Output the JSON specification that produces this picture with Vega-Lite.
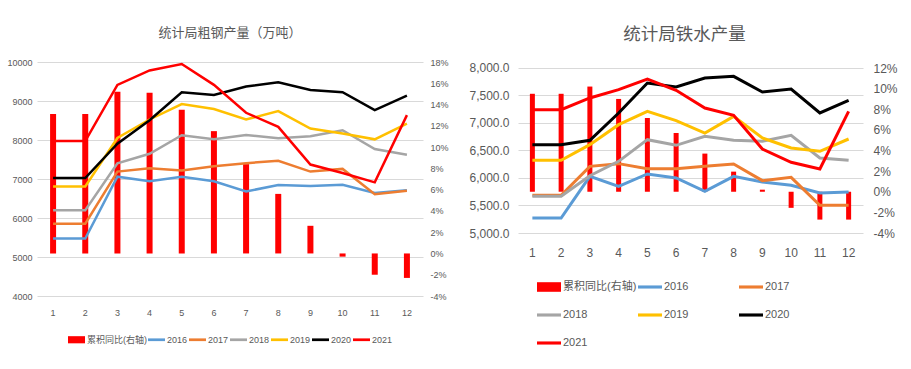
{
  "$schema": "https://vega.github.io/schema/vega-lite/v6.json",
  "background": "white",
  "padding": {"left": 6, "top": 25, "right": 0, "bottom": 0},
  "spacing": 19,
  "datasets": {
    "steel": [
      {"m": 1, "s": "累积同比(右轴)", "v": 0.131}, {"m": 2, "s": "累积同比(右轴)", "v": 0.131}, {"m": 3, "s": "累积同比(右轴)", "v": 0.152}, {"m": 4, "s": "累积同比(右轴)", "v": 0.151}, {"m": 5, "s": "累积同比(右轴)", "v": 0.135}, {"m": 6, "s": "累积同比(右轴)", "v": 0.115}, {"m": 7, "s": "累积同比(右轴)", "v": 0.084}, {"m": 8, "s": "累积同比(右轴)", "v": 0.056}, {"m": 9, "s": "累积同比(右轴)", "v": 0.026}, {"m": 10, "s": "累积同比(右轴)", "v": -0.003}, {"m": 11, "s": "累积同比(右轴)", "v": -0.020}, {"m": 12, "s": "累积同比(右轴)", "v": -0.023},
      {"m": 1, "s": "2016", "v": 5474}, {"m": 2, "s": "2016", "v": 5474}, {"m": 3, "s": "2016", "v": 7060}, {"m": 4, "s": "2016", "v": 6940}, {"m": 5, "s": "2016", "v": 7060}, {"m": 6, "s": "2016", "v": 6940}, {"m": 7, "s": "2016", "v": 6681}, {"m": 8, "s": "2016", "v": 6845}, {"m": 9, "s": "2016", "v": 6819}, {"m": 10, "s": "2016", "v": 6853}, {"m": 11, "s": "2016", "v": 6640}, {"m": 12, "s": "2016", "v": 6710},
      {"m": 1, "s": "2017", "v": 5853}, {"m": 2, "s": "2017", "v": 5853}, {"m": 3, "s": "2017", "v": 7190}, {"m": 4, "s": "2017", "v": 7276}, {"m": 5, "s": "2017", "v": 7216}, {"m": 6, "s": "2017", "v": 7328}, {"m": 7, "s": "2017", "v": 7405}, {"m": 8, "s": "2017", "v": 7466}, {"m": 9, "s": "2017", "v": 7190}, {"m": 10, "s": "2017", "v": 7259}, {"m": 11, "s": "2017", "v": 6612}, {"m": 12, "s": "2017", "v": 6698},
      {"m": 1, "s": "2018", "v": 6198}, {"m": 2, "s": "2018", "v": 6198}, {"m": 3, "s": "2018", "v": 7405}, {"m": 4, "s": "2018", "v": 7647}, {"m": 5, "s": "2018", "v": 8121}, {"m": 6, "s": "2018", "v": 8017}, {"m": 7, "s": "2018", "v": 8129}, {"m": 8, "s": "2018", "v": 8043}, {"m": 9, "s": "2018", "v": 8095}, {"m": 10, "s": "2018", "v": 8250}, {"m": 11, "s": "2018", "v": 7767}, {"m": 12, "s": "2018", "v": 7621},
      {"m": 1, "s": "2019", "v": 6810}, {"m": 2, "s": "2019", "v": 6810}, {"m": 3, "s": "2019", "v": 8052}, {"m": 4, "s": "2019", "v": 8526}, {"m": 5, "s": "2019", "v": 8922}, {"m": 6, "s": "2019", "v": 8793}, {"m": 7, "s": "2019", "v": 8526}, {"m": 8, "s": "2019", "v": 8741}, {"m": 9, "s": "2019", "v": 8293}, {"m": 10, "s": "2019", "v": 8164}, {"m": 11, "s": "2019", "v": 8017}, {"m": 12, "s": "2019", "v": 8422},
      {"m": 1, "s": "2020", "v": 7026}, {"m": 2, "s": "2020", "v": 7026}, {"m": 3, "s": "2020", "v": 7905}, {"m": 4, "s": "2020", "v": 8509}, {"m": 5, "s": "2020", "v": 9224}, {"m": 6, "s": "2020", "v": 9155}, {"m": 7, "s": "2020", "v": 9371}, {"m": 8, "s": "2020", "v": 9483}, {"m": 9, "s": "2020", "v": 9284}, {"m": 10, "s": "2020", "v": 9224}, {"m": 11, "s": "2020", "v": 8767}, {"m": 12, "s": "2020", "v": 9138},
      {"m": 1, "s": "2021", "v": 7974}, {"m": 2, "s": "2021", "v": 7974}, {"m": 3, "s": "2021", "v": 9414}, {"m": 4, "s": "2021", "v": 9784}, {"m": 5, "s": "2021", "v": 9948}, {"m": 6, "s": "2021", "v": 9414}, {"m": 7, "s": "2021", "v": 8698}, {"m": 8, "s": "2021", "v": 8336}, {"m": 9, "s": "2021", "v": 7371}, {"m": 10, "s": "2021", "v": 7155}, {"m": 11, "s": "2021", "v": 6914}, {"m": 12, "s": "2021", "v": 8638}
    ],
    "iron": [
      {"m": 1, "s": "累积同比(右轴)", "v": 0.095}, {"m": 2, "s": "累积同比(右轴)", "v": 0.095}, {"m": 3, "s": "累积同比(右轴)", "v": 0.102}, {"m": 4, "s": "累积同比(右轴)", "v": 0.090}, {"m": 5, "s": "累积同比(右轴)", "v": 0.0715}, {"m": 6, "s": "累积同比(右轴)", "v": 0.057}, {"m": 7, "s": "累积同比(右轴)", "v": 0.037}, {"m": 8, "s": "累积同比(右轴)", "v": 0.0195}, {"m": 9, "s": "累积同比(右轴)", "v": 0.002}, {"m": 10, "s": "累积同比(右轴)", "v": -0.0156}, {"m": 11, "s": "累积同比(右轴)", "v": -0.027}, {"m": 12, "s": "累积同比(右轴)", "v": -0.027},
      {"m": 1, "s": "2016", "v": 5273}, {"m": 2, "s": "2016", "v": 5273}, {"m": 3, "s": "2016", "v": 6030}, {"m": 4, "s": "2016", "v": 5848}, {"m": 5, "s": "2016", "v": 6073}, {"m": 6, "s": "2016", "v": 6000}, {"m": 7, "s": "2016", "v": 5758}, {"m": 8, "s": "2016", "v": 6030}, {"m": 9, "s": "2016", "v": 5927}, {"m": 10, "s": "2016", "v": 5867}, {"m": 11, "s": "2016", "v": 5727}, {"m": 12, "s": "2016", "v": 5745},
      {"m": 1, "s": "2017", "v": 5685}, {"m": 2, "s": "2017", "v": 5685}, {"m": 3, "s": "2017", "v": 6212}, {"m": 4, "s": "2017", "v": 6261}, {"m": 5, "s": "2017", "v": 6170}, {"m": 6, "s": "2017", "v": 6170}, {"m": 7, "s": "2017", "v": 6212}, {"m": 8, "s": "2017", "v": 6255}, {"m": 9, "s": "2017", "v": 5952}, {"m": 10, "s": "2017", "v": 6012}, {"m": 11, "s": "2017", "v": 5503}, {"m": 12, "s": "2017", "v": 5503},
      {"m": 1, "s": "2018", "v": 5667}, {"m": 2, "s": "2018", "v": 5667}, {"m": 3, "s": "2018", "v": 6042}, {"m": 4, "s": "2018", "v": 6303}, {"m": 5, "s": "2018", "v": 6697}, {"m": 6, "s": "2018", "v": 6594}, {"m": 7, "s": "2018", "v": 6758}, {"m": 8, "s": "2018", "v": 6685}, {"m": 9, "s": "2018", "v": 6667}, {"m": 10, "s": "2018", "v": 6776}, {"m": 11, "s": "2018", "v": 6364}, {"m": 12, "s": "2018", "v": 6321},
      {"m": 1, "s": "2019", "v": 6321}, {"m": 2, "s": "2019", "v": 6321}, {"m": 3, "s": "2019", "v": 6606}, {"m": 4, "s": "2019", "v": 6970}, {"m": 5, "s": "2019", "v": 7212}, {"m": 6, "s": "2019", "v": 7042}, {"m": 7, "s": "2019", "v": 6818}, {"m": 8, "s": "2019", "v": 7121}, {"m": 9, "s": "2019", "v": 6727}, {"m": 10, "s": "2019", "v": 6545}, {"m": 11, "s": "2019", "v": 6485}, {"m": 12, "s": "2019", "v": 6709},
      {"m": 1, "s": "2020", "v": 6606}, {"m": 2, "s": "2020", "v": 6606}, {"m": 3, "s": "2020", "v": 6685}, {"m": 4, "s": "2020", "v": 7182}, {"m": 5, "s": "2020", "v": 7727}, {"m": 6, "s": "2020", "v": 7655}, {"m": 7, "s": "2020", "v": 7818}, {"m": 8, "s": "2020", "v": 7848}, {"m": 9, "s": "2020", "v": 7564}, {"m": 10, "s": "2020", "v": 7618}, {"m": 11, "s": "2020", "v": 7182}, {"m": 12, "s": "2020", "v": 7412},
      {"m": 1, "s": "2021", "v": 7242}, {"m": 2, "s": "2021", "v": 7242}, {"m": 3, "s": "2021", "v": 7455}, {"m": 4, "s": "2021", "v": 7606}, {"m": 5, "s": "2021", "v": 7800}, {"m": 6, "s": "2021", "v": 7594}, {"m": 7, "s": "2021", "v": 7273}, {"m": 8, "s": "2021", "v": 7139}, {"m": 9, "s": "2021", "v": 6527}, {"m": 10, "s": "2021", "v": 6285}, {"m": 11, "s": "2021", "v": 6164}, {"m": 12, "s": "2021", "v": 7212}
    ]
  },
  "hconcat": [
    {
      "width": 386,
      "height": 234,
      "title": {"text": "统计局粗钢产量（万吨）", "fontSize": 13, "offset": 18},
      "data": {"name": "steel"},
      "encoding": {
        "x": {"field": "m", "type": "ordinal", "scale": {"paddingInner": 0, "paddingOuter": 0},
              "axis": {"title": null, "labelAngle": 0, "labelFontSize": 9, "labelPadding": 12, "grid": false}}
      },
      "layer": [
        {
          "transform": [{"filter": "datum.s === '累积同比(右轴)'"}],
          "mark": {"type": "bar", "size": 6},
          "encoding": {
            "y": {"field": "v", "type": "quantitative", "scale": {"domain": [-0.04, 0.18], "nice": false, "zero": false},
                  "axis": {"orient": "right", "title": null, "values": [-0.04, -0.02, 0, 0.02, 0.04, 0.06, 0.08, 0.1, 0.12, 0.14, 0.16, 0.18], "labelExpr": "round(datum.value*100) + '%'", "labelFontSize": 9, "labelPadding": 7, "grid": false}},
            "color": {"field": "s", "type": "nominal",
                      "scale": {"domain": ["累积同比(右轴)", "2016", "2017", "2018", "2019", "2020", "2021"], "range": ["#FF0000", "#5B9BD5", "#ED7D31", "#A5A5A5", "#FFC000", "#000000", "#FF0000"]},
                      "legend": {"orient": "none", "legendX": 31, "legendY": 269, "direction": "horizontal", "title": null, "labelFontSize": 9, "symbolSize": 289, "labelOffset": 2, "columnPadding": 1, "padding": 0,
                                 "encode": {"symbols": {"update": {
                                   "shape": {"signal": "datum.value === '累积同比(右轴)' ? 'M-1,-0.42H1V0.42H-1Z' : 'M-1,-0.16H1V0.16H-1Z'"},
                                   "fill": {"signal": "['#FF0000','#5B9BD5','#ED7D31','#A5A5A5','#FFC000','#000000','#FF0000'][indexof(['累积同比(右轴)','2016','2017','2018','2019','2020','2021'], datum.value)]"},
                                   "stroke": {"value": "transparent"}, "strokeWidth": {"value": 0}, "opacity": {"value": 1}}}}}}
          }
        },
        {
          "transform": [{"filter": "datum.s !== '累积同比(右轴)'"}],
          "mark": {"type": "line", "strokeWidth": 2.5},
          "encoding": {
            "y": {"field": "v", "type": "quantitative", "scale": {"domain": [4000, 10000], "nice": false, "zero": false},
                  "axis": {"orient": "left", "title": null, "values": [4000, 5000, 6000, 7000, 8000, 9000, 10000], "format": "d", "labelFontSize": 9, "labelPadding": 5, "grid": true}},
            "color": {"field": "s", "type": "nominal",
                      "scale": {"domain": ["累积同比(右轴)", "2016", "2017", "2018", "2019", "2020", "2021"], "range": ["#FF0000", "#5B9BD5", "#ED7D31", "#A5A5A5", "#FFC000", "#000000", "#FF0000"]},
                      "legend": {"orient": "none", "legendX": 31, "legendY": 269, "direction": "horizontal", "title": null, "labelFontSize": 9, "symbolSize": 289, "labelOffset": 2, "columnPadding": 1, "padding": 0,
                                 "encode": {"symbols": {"update": {
                                   "shape": {"signal": "datum.value === '累积同比(右轴)' ? 'M-1,-0.42H1V0.42H-1Z' : 'M-1,-0.16H1V0.16H-1Z'"},
                                   "fill": {"signal": "['#FF0000','#5B9BD5','#ED7D31','#A5A5A5','#FFC000','#000000','#FF0000'][indexof(['累积同比(右轴)','2016','2017','2018','2019','2020','2021'], datum.value)]"},
                                   "stroke": {"value": "transparent"}, "strokeWidth": {"value": 0}, "opacity": {"value": 1}}}}}}
          }
        }
      ],
      "resolve": {"scale": {"y": "independent"}}
    },
    {
      "width": 345,
      "height": 171,
      "title": {"text": "统计局铁水产量", "fontSize": 17.5, "offset": 18.5, "dx": -6},
      "data": {"name": "iron"},
      "encoding": {
        "x": {"field": "m", "type": "ordinal", "scale": {"paddingInner": 0, "paddingOuter": 0},
              "axis": {"title": null, "labelAngle": 0, "labelFontSize": 12, "labelPadding": 14, "grid": false}}
      },
      "layer": [
        {
          "transform": [{"filter": "datum.s === '累积同比(右轴)'"}],
          "mark": {"type": "bar", "size": 5},
          "encoding": {
            "y": {"field": "v", "type": "quantitative", "scale": {"domain": [-0.04, 0.12582], "nice": false, "zero": false},
                  "axis": {"orient": "right", "title": null, "values": [-0.04, -0.02, 0, 0.02, 0.04, 0.06, 0.08, 0.1, 0.12], "labelExpr": "round(datum.value*100) + '%'", "labelFontSize": 12, "labelPadding": 10, "grid": false}},
            "color": {"field": "s", "type": "nominal",
                      "scale": {"domain": ["累积同比(右轴)", "2016", "2017", "2018", "2019", "2020", "2021"], "range": ["#FF0000", "#5B9BD5", "#ED7D31", "#A5A5A5", "#FFC000", "#000000", "#FF0000"]},
                      "legend": {"orient": "none", "legendX": 19, "legendY": 213, "direction": "horizontal", "columns": 3, "gridAlign": "all", "title": null, "labelFontSize": 11, "symbolSize": 576, "labelOffset": 2, "columnPadding": 1, "rowPadding": 11, "padding": 0,
                                 "encode": {"symbols": {"update": {
                                   "shape": {"signal": "datum.value === '累积同比(右轴)' ? 'M-1,-0.4H1V0.4H-1Z' : 'M-1,-0.13H1V0.13H-1Z'"},
                                   "fill": {"signal": "['#FF0000','#5B9BD5','#ED7D31','#A5A5A5','#FFC000','#000000','#FF0000'][indexof(['累积同比(右轴)','2016','2017','2018','2019','2020','2021'], datum.value)]"},
                                   "stroke": {"value": "transparent"}, "strokeWidth": {"value": 0}, "opacity": {"value": 1}}}}}}
          }
        },
        {
          "transform": [{"filter": "datum.s !== '累积同比(右轴)'"}],
          "mark": {"type": "line", "strokeWidth": 3},
          "encoding": {
            "y": {"field": "v", "type": "quantitative", "scale": {"domain": [5000, 8109], "nice": false, "zero": false},
                  "axis": {"orient": "left", "title": null, "values": [5000, 5500, 6000, 6500, 7000, 7500, 8000], "format": ",.1f", "labelFontSize": 12, "labelPadding": 9, "grid": true}},
            "color": {"field": "s", "type": "nominal",
                      "scale": {"domain": ["累积同比(右轴)", "2016", "2017", "2018", "2019", "2020", "2021"], "range": ["#FF0000", "#5B9BD5", "#ED7D31", "#A5A5A5", "#FFC000", "#000000", "#FF0000"]},
                      "legend": {"orient": "none", "legendX": 19, "legendY": 213, "direction": "horizontal", "columns": 3, "gridAlign": "all", "title": null, "labelFontSize": 11, "symbolSize": 576, "labelOffset": 2, "columnPadding": 1, "rowPadding": 11, "padding": 0,
                                 "encode": {"symbols": {"update": {
                                   "shape": {"signal": "datum.value === '累积同比(右轴)' ? 'M-1,-0.4H1V0.4H-1Z' : 'M-1,-0.13H1V0.13H-1Z'"},
                                   "fill": {"signal": "['#FF0000','#5B9BD5','#ED7D31','#A5A5A5','#FFC000','#000000','#FF0000'][indexof(['累积同比(右轴)','2016','2017','2018','2019','2020','2021'], datum.value)]"},
                                   "stroke": {"value": "transparent"}, "strokeWidth": {"value": 0}, "opacity": {"value": 1}}}}}}
          }
        }
      ],
      "resolve": {"scale": {"y": "independent"}}
    }
  ],
  "resolve": {"scale": {"color": "independent"}, "legend": {"color": "independent"}},
  "config": {
    "font": "Liberation Sans, Noto Sans CJK SC, sans-serif",
    "view": {"stroke": null},
    "title": {"font": "Noto Sans CJK SC", "fontWeight": "normal", "color": "#595959", "anchor": "middle"},
    "axis": {"domain": false, "ticks": false, "labelColor": "#595959", "labelFont": "Liberation Sans, Noto Sans CJK SC, sans-serif", "gridColor": "#D9D9D9", "gridWidth": 1},
    "legend": {"labelColor": "#595959", "labelFont": "Liberation Sans, Noto Sans CJK SC, sans-serif"}
  }
}
